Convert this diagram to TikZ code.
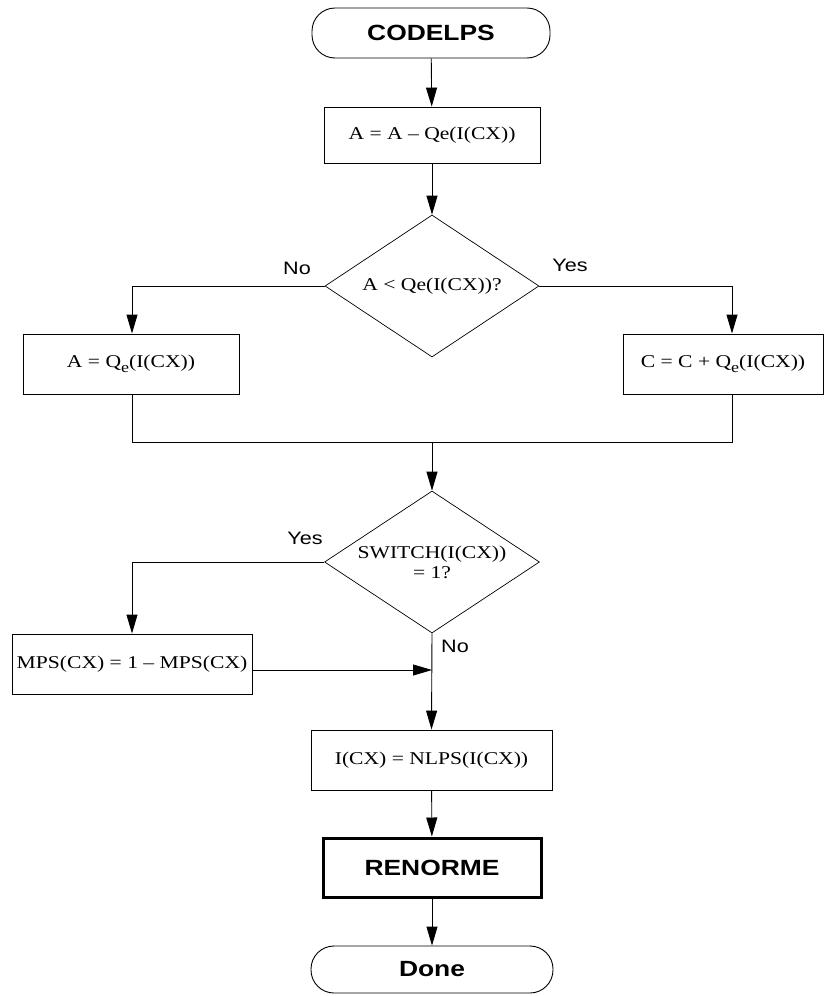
\documentclass[tikz,border=0pt]{standalone}
\usepackage{fontspec}
\setmainfont{Liberation Serif}[FakeStretch=1.2]
\setsansfont{Liberation Sans}[FakeStretch=1.2]
\usetikzlibrary{shapes.geometric,arrows.meta}
\newcommand{\qsub}{Q\raisebox{-0.28em}{\fontsize{15}{15}\selectfont e}}
\begin{document}
\begin{tikzpicture}[x=1pt,y=-1pt,
  line width=0.9pt,
  >={Triangle[length=19pt,width=11pt]},
  every node/.style={inner sep=0pt},
  proc/.style={draw,rectangle,font=\fontsize{18}{21}\selectfont},
  term/.style={draw,rectangle,rounded corners=23pt,font=\sffamily\bfseries\fontsize{22}{24}\selectfont},
  sub/.style={draw,rectangle,line width=3pt,font=\sffamily\bfseries\fontsize{22}{24}\selectfont},
  dec/.style={draw,diamond,aspect=1.5,line width=0.7pt,align=center,font=\fontsize{18}{21}\selectfont},
  lab/.style={font=\sffamily\fontsize{18}{20}\selectfont}]
\useasboundingbox (0,0) rectangle (828,996);

\node[term,minimum width=238pt,minimum height=50pt] (start) at (431,33) {CODELPS};
\node[proc,minimum width=216pt,minimum height=56pt] (b1) at (432,135) {A = A -- Qe(I(CX))};
\node[dec,minimum width=214pt,minimum height=142pt] (d1) at (432,286) {A {\fontspec{Liberation Serif}[FakeStretch=1.2]<} Qe(I(CX))?};
\node[proc,minimum width=216pt,minimum height=60pt] (bl) at (131,364) {A = \qsub(I(CX))};
\node[proc,minimum width=200pt,minimum height=60pt] (br) at (723,364) {C = C + \qsub(I(CX))};
\node[dec,minimum width=215pt,minimum height=142pt] (d2) at (432,562) {SWITCH(I(CX))\\[-1pt]= 1?};
\node[proc,minimum width=240pt,minimum height=60pt] (mps) at (132,664) {MPS(CX) = 1 -- MPS(CX)};
\node[proc,minimum width=241pt,minimum height=60pt] (b5) at (431.5,760) {I(CX) = NLPS(I(CX))};
\node[sub,minimum width=218pt,minimum height=59pt] (ren) at (432,867.5) {RENORME};
\node[term,minimum width=242pt,minimum height=47pt] (done) at (432,969.5) {Done};

\node[lab] (no1) at (297,268) {No};
\node[lab] (yes1) at (570,265) {Yes};
\node[lab] (yes2) at (305,538) {Yes};
\node[lab] (no2) at (455,646) {No};

\coordinate (jl) at (132,442);
\coordinate (jr) at (732,442);
\coordinate (jm) at (432,442);
\coordinate (j2) at (432,670);
\coordinate (jbr) at (732,286);

\draw[->] (start) -- (b1);
\draw[->] (b1) -- (d1.north);
\draw[->] (d1.west) -| (bl.north -| jl);
\draw[->] (d1.east) -- (jbr) -- (br.north -| jbr);
\draw (bl.south -| jl) -- (jl) -- (jr) -- (br.south -| jr);
\draw[->] (jm) -- (d2.north);
\draw[->] (d2.west) -| (mps.north -| jl);
\draw[->] ([yshift=-6pt]mps.east) -- (j2);
\draw[->] (d2.south) -- (b5.north);
\draw[->] (b5) -- (ren);
\draw[->] (ren) -- (done);
\end{tikzpicture}
\end{document}
